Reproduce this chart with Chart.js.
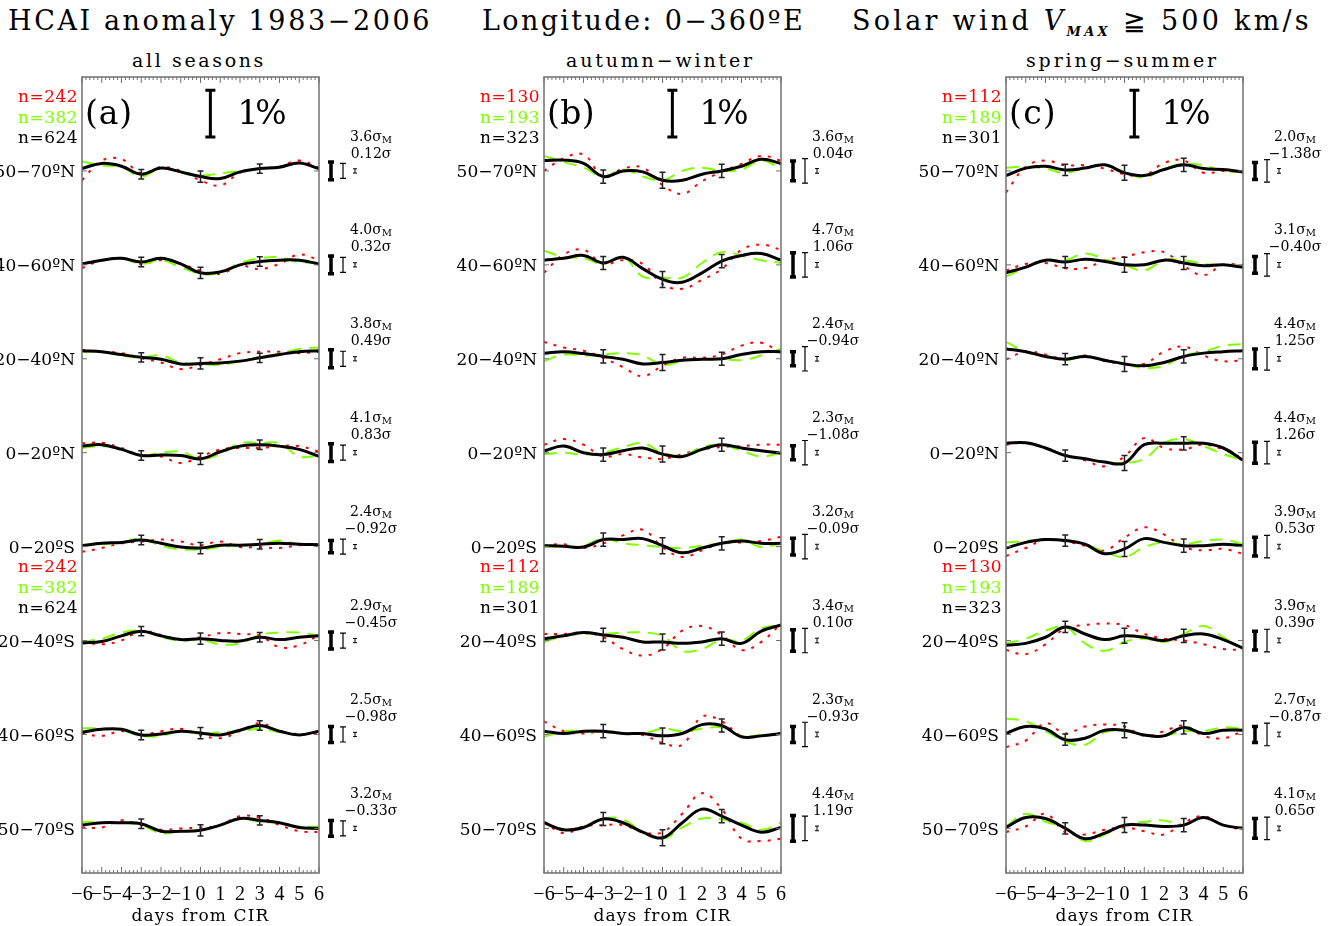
<!DOCTYPE html>
<html>
<head>
<meta charset="utf-8">
<title>HCAI anomaly</title>
<script src="https://cdn.jsdelivr.net/npm/chart.js@4.4.1/dist/chart.umd.min.js"></script>
<style>
  body { margin: 0; background: #fff; width: 1336px; height: 926px; overflow: hidden; position: relative; font-family: "DejaVu Serif", serif; color: #000; }
  canvas { position: absolute; left: 0; top: 0; }
  .ttl { position: absolute; top: 4px; font-size: 27px; line-height: 34px; white-space: nowrap; }
  .ttl sub { font-size: 13px; font-style: italic; font-weight: bold; vertical-align: -6px; }
  .ptl { position: absolute; top: 48px; font-size: 19px; line-height: 24px; white-space: nowrap; }
</style>
</head>
<body>
<div class="ttl" id="t1">HCAI anomaly 1983−2006</div>
<div class="ttl" id="t2">Longitude: 0−360ºE</div>
<div class="ttl" id="t3">Solar wind <i>V</i><sub>MAX</sub> ≧ 500 km/s</div>
<div class="ptl" id="p1">all seasons</div>
<div class="ptl" id="p2">autumn−winter</div>
<div class="ptl" id="p3">spring−summer</div>
<canvas id="chartA" width="1336" height="926"></canvas>
<canvas id="chartB" width="1336" height="926"></canvas>
<canvas id="chartC" width="1336" height="926"></canvas>
<script>
// ---- data ----
const days = [-6, -5, -4, -3, -2, -1, 0, 1, 2, 3, 4, 5, 6];
const rowLabels = ['50−70ºN', '40−60ºN', '20−40ºN', '0−20ºN', '0−20ºS', '20−40ºS', '40−60ºS', '50−70ºS'];
const errDays = [-3, 0, 3];
const tags = ['(a)', '(b)', '(c)'];
const xTitle = 'days from CIR';

// n counts: red, green, black
const nTop = [[242, 382, 624], [130, 193, 323], [112, 189, 301]];
const nLow = [[242, 382, 624], [112, 189, 301], [130, 193, 323]];

// right hand annotations
const sigmaMA = [3.6, 4.0, 3.8, 4.1, 2.4, 2.9, 2.5, 3.2];
const sigmaA = [0.12, 0.32, 0.49, 0.83, -0.92, -0.45, -0.98, -0.33];
const sigmaMB = [3.6, 4.7, 2.4, 2.3, 3.2, 3.4, 2.3, 4.4];
const sigmaB = [0.04, 1.06, -0.94, -1.08, -0.09, 0.10, -0.93, 1.19];
const sigmaMC = [2.0, 3.1, 4.4, 4.4, 3.9, 3.9, 2.7, 4.1];
const sigmaC = [-1.38, -0.40, 1.25, 1.26, 0.53, 0.39, -0.87, 0.65];

// glyph lengths (%) : thick bar, thin bar, tiny bar
const thickA = [0.38, 0.38, 0.38, 0.38, 0.26, 0.36, 0.34, 0.34];
const thickB = [0.42, 0.52, 0.30, 0.30, 0.36, 0.46, 0.34, 0.55];
const thickC = [0.36, 0.36, 0.42, 0.45, 0.40, 0.40, 0.34, 0.42];
const thinBar = [0.32, 0.52, 0.48];
const tinyBar = [0.09, 0.10, 0.10];

// error bar half lengths (%) at days -3, 0, 3
const errA = [0.10, 0.12, 0.10];
const errB = [0.14, 0.17, 0.14];
const errC = [0.12, 0.16, 0.14];

// anomaly (%) per latitude band, days -6..6
const blackA = [
  [0.05, 0.16, 0.10, -0.07, 0.06, -0.02, -0.12, -0.16, -0.02, 0.05, 0.08, 0.17, 0.05],
  [0.02, 0.10, 0.14, 0.06, 0.14, 0.02, -0.17, -0.15, 0.00, 0.07, 0.10, 0.10, 0.02],
  [0.17, 0.15, 0.09, 0.03, -0.01, -0.11, -0.10, -0.09, -0.05, 0.02, 0.09, 0.15, 0.17],
  [0.14, 0.17, 0.07, -0.06, -0.05, -0.06, -0.13, 0.02, 0.14, 0.17, 0.14, 0.07, -0.08],
  [0.02, 0.07, 0.09, 0.14, 0.07, -0.01, -0.03, 0.03, 0.03, 0.05, 0.07, 0.05, 0.04],
  [-0.05, -0.02, 0.10, 0.20, 0.10, 0.02, 0.04, 0.00, -0.01, 0.07, 0.02, 0.07, 0.10],
  [0.05, 0.11, 0.11, -0.01, 0.01, 0.07, 0.03, -0.01, 0.09, 0.19, 0.07, -0.01, 0.07],
  [0.07, 0.12, 0.12, 0.10, -0.06, -0.06, -0.04, 0.07, 0.21, 0.17, 0.12, 0.02, 0.00]
];
const greenA = [
  [0.20, 0.12, 0.08, -0.12, 0.06, -0.04, -0.10, -0.05, 0.00, 0.05, 0.09, 0.17, 0.05],
  [0.02, 0.10, 0.14, 0.02, 0.10, -0.05, -0.19, -0.17, 0.04, 0.14, 0.16, 0.06, 0.04],
  [0.15, 0.15, 0.07, 0.03, 0.07, -0.08, -0.11, -0.13, -0.05, 0.03, 0.11, 0.21, 0.24],
  [0.10, 0.14, 0.07, -0.06, 0.00, 0.02, -0.13, -0.03, 0.20, 0.21, 0.20, -0.08, -0.06],
  [0.04, 0.05, 0.09, 0.17, 0.02, -0.06, -0.06, -0.01, 0.03, 0.05, 0.13, 0.05, 0.04],
  [-0.03, 0.04, 0.17, 0.21, 0.07, 0.00, 0.02, -0.08, -0.06, 0.12, 0.17, 0.17, 0.10],
  [0.13, 0.13, 0.09, -0.03, -0.03, 0.07, 0.01, 0.05, 0.07, 0.12, 0.05, -0.01, 0.07],
  [0.14, 0.12, 0.12, 0.07, -0.10, -0.06, -0.04, 0.07, 0.21, 0.14, 0.12, 0.04, 0.04]
];
const redA = [
  [-0.20, 0.22, 0.25, -0.05, 0.08, 0.00, -0.20, -0.31, -0.04, 0.05, 0.09, 0.22, 0.07],
  [-0.07, 0.10, 0.14, 0.02, 0.10, 0.02, -0.12, -0.19, -0.02, -0.09, 0.02, 0.22, 0.10],
  [0.19, 0.15, 0.12, 0.01, -0.08, -0.22, -0.13, -0.01, 0.12, 0.15, 0.15, 0.12, 0.15],
  [0.20, 0.21, 0.10, -0.06, -0.08, -0.22, -0.08, 0.07, 0.10, 0.10, 0.14, 0.14, 0.02],
  [-0.11, -0.03, 0.07, 0.11, 0.15, 0.11, 0.03, 0.11, -0.01, -0.01, -0.03, 0.03, 0.05],
  [-0.03, -0.08, 0.00, 0.20, 0.12, 0.02, 0.07, 0.16, 0.14, 0.10, -0.14, -0.10, 0.12],
  [0.02, -0.03, 0.07, -0.01, 0.07, 0.12, -0.01, -0.08, 0.07, 0.24, 0.07, 0.01, 0.02],
  [0.02, 0.02, 0.17, 0.07, -0.03, 0.00, 0.02, 0.07, 0.26, 0.23, 0.07, -0.06, -0.08]
];

const blackB = [
  [0.22, 0.23, 0.16, -0.12, 0.00, -0.02, -0.20, -0.20, -0.07, 0.00, 0.10, 0.25, 0.16],
  [0.10, 0.14, 0.20, 0.04, 0.16, -0.08, -0.31, -0.37, -0.17, 0.08, 0.20, 0.24, 0.10],
  [0.12, 0.15, 0.11, 0.05, -0.01, -0.11, -0.08, -0.03, -0.01, 0.00, 0.09, 0.15, 0.15],
  [0.04, 0.14, 0.00, -0.04, 0.04, 0.10, -0.03, -0.08, 0.07, 0.17, 0.10, 0.04, -0.01],
  [0.02, 0.01, -0.01, 0.15, 0.15, 0.17, 0.02, -0.13, -0.03, 0.07, 0.12, 0.07, 0.07],
  [0.04, 0.10, 0.17, 0.12, 0.07, -0.03, -0.03, -0.06, -0.03, 0.04, -0.06, 0.20, 0.33],
  [0.07, 0.02, 0.07, 0.07, 0.02, 0.02, -0.03, 0.02, 0.21, 0.19, -0.05, -0.03, 0.02],
  [0.12, -0.03, 0.02, 0.20, 0.12, -0.08, -0.20, 0.12, 0.41, 0.26, 0.07, -0.08, 0.02]
];
const greenB = [
  [0.32, 0.19, 0.07, -0.12, 0.03, -0.12, -0.20, 0.00, 0.07, 0.00, 0.03, 0.22, 0.05],
  [0.30, 0.17, 0.14, 0.02, 0.17, -0.25, -0.27, -0.27, 0.04, 0.27, 0.20, 0.10, 0.04],
  [-0.05, 0.09, 0.07, 0.09, 0.12, 0.07, -0.13, -0.05, -0.01, -0.01, -0.03, 0.07, 0.21],
  [-0.03, 0.00, -0.04, 0.00, 0.12, 0.20, 0.00, -0.06, 0.12, 0.17, 0.04, -0.08, 0.00],
  [0.01, -0.01, 0.02, 0.17, 0.07, 0.03, -0.01, -0.03, 0.02, 0.07, 0.15, -0.01, 0.07],
  [-0.03, 0.10, 0.14, 0.14, 0.17, 0.17, 0.10, -0.22, -0.18, 0.02, 0.00, 0.26, 0.33],
  [-0.05, 0.07, 0.07, 0.05, 0.02, 0.02, 0.12, 0.07, 0.12, 0.15, -0.03, -0.01, 0.02],
  [0.12, -0.03, 0.04, 0.21, 0.19, -0.08, -0.22, 0.02, 0.21, 0.19, 0.12, -0.03, 0.12]
];
const redB = [
  [0.00, 0.27, 0.35, -0.12, 0.05, 0.07, -0.30, -0.49, -0.22, -0.02, 0.15, 0.32, 0.22],
  [-0.17, 0.22, 0.32, 0.02, 0.10, 0.02, -0.41, -0.51, -0.32, -0.09, 0.32, 0.43, 0.32],
  [0.36, 0.24, 0.17, 0.02, -0.18, -0.37, -0.15, 0.02, 0.02, 0.09, 0.28, 0.34, 0.12],
  [0.17, 0.29, 0.17, -0.08, -0.03, -0.10, -0.13, -0.03, 0.07, 0.12, 0.14, 0.17, 0.17],
  [0.02, 0.05, -0.03, 0.07, 0.24, 0.36, -0.01, -0.22, -0.08, 0.07, 0.09, 0.12, 0.21],
  [0.14, 0.14, 0.17, 0.07, -0.18, -0.32, -0.18, 0.21, 0.31, 0.12, -0.20, -0.03, 0.36],
  [0.28, 0.07, 0.02, 0.07, 0.02, -0.01, -0.18, -0.22, 0.38, 0.28, -0.03, -0.03, 0.02],
  [0.14, -0.10, 0.04, 0.07, 0.07, -0.08, -0.08, 0.31, 0.75, 0.41, -0.22, -0.27, -0.22]
];

const blackC = [
  [-0.10, 0.06, 0.10, 0.02, 0.06, 0.13, -0.04, -0.10, 0.03, 0.13, 0.05, 0.03, -0.02],
  [-0.17, -0.05, 0.10, 0.06, 0.12, 0.07, 0.00, 0.00, 0.10, 0.04, -0.02, 0.00, -0.05],
  [0.21, 0.15, 0.05, -0.01, 0.05, -0.03, -0.11, -0.15, -0.08, 0.05, 0.12, 0.15, 0.17],
  [0.20, 0.21, 0.10, -0.06, -0.13, -0.20, -0.22, 0.17, 0.20, 0.20, 0.20, 0.10, -0.16],
  [-0.03, 0.09, 0.15, 0.13, 0.05, -0.15, -0.05, 0.17, 0.09, 0.02, 0.02, 0.05, 0.02],
  [-0.10, -0.06, 0.07, 0.29, 0.14, 0.02, 0.10, 0.07, 0.00, 0.10, 0.14, 0.02, -0.16],
  [0.02, 0.17, 0.12, -0.11, -0.08, 0.09, 0.09, -0.01, -0.03, 0.15, 0.02, 0.09, 0.09],
  [0.02, 0.23, 0.21, 0.00, -0.22, -0.10, 0.07, 0.07, 0.04, 0.07, 0.23, 0.07, 0.00]
];
const greenC = [
  [0.07, 0.09, 0.05, -0.04, 0.07, 0.11, -0.02, -0.14, 0.05, 0.15, 0.12, 0.00, -0.02],
  [-0.25, -0.05, 0.10, 0.10, 0.24, 0.12, 0.00, -0.12, 0.10, 0.10, 0.02, 0.00, -0.02],
  [0.36, 0.15, 0.07, -0.03, 0.05, -0.03, -0.11, -0.20, -0.15, 0.07, 0.15, 0.28, 0.31],
  [0.20, 0.20, 0.10, -0.06, -0.13, -0.20, -0.22, -0.13, 0.21, 0.29, 0.14, -0.03, -0.16],
  [0.09, 0.12, 0.15, 0.13, 0.05, -0.11, -0.22, -0.01, 0.09, 0.05, 0.12, 0.15, 0.05],
  [-0.06, 0.04, 0.21, 0.29, -0.06, -0.22, -0.03, 0.04, -0.03, 0.14, 0.31, 0.07, -0.18],
  [0.34, 0.28, 0.07, -0.15, -0.22, 0.05, 0.07, -0.01, -0.03, 0.07, 0.07, 0.15, 0.12],
  [0.04, 0.31, 0.14, 0.02, -0.27, -0.13, 0.07, 0.14, 0.17, 0.07, 0.23, 0.07, 0.02]
];
const redC = [
  [-0.46, 0.09, 0.22, 0.12, 0.12, 0.05, -0.07, -0.10, 0.17, 0.22, -0.04, 0.00, -0.04],
  [-0.12, 0.02, 0.04, -0.07, -0.07, 0.10, 0.17, 0.27, 0.27, -0.02, -0.22, 0.00, 0.00],
  [-0.01, 0.15, 0.09, -0.01, 0.07, -0.05, -0.11, -0.11, 0.15, 0.26, 0.07, -0.05, -0.03],
  [0.17, 0.21, 0.10, -0.06, -0.16, -0.29, -0.08, 0.31, 0.10, 0.07, 0.17, 0.07, -0.13],
  [-0.20, -0.03, 0.15, 0.11, 0.02, -0.08, 0.19, 0.41, 0.26, -0.01, -0.08, -0.05, -0.15],
  [-0.20, -0.29, -0.08, 0.26, 0.33, 0.36, 0.33, 0.14, 0.04, 0.00, -0.08, -0.18, -0.20],
  [-0.27, -0.13, 0.24, 0.02, 0.17, 0.21, 0.17, -0.03, 0.07, 0.19, -0.03, -0.08, 0.07],
  [-0.08, 0.04, 0.31, -0.08, -0.13, -0.03, 0.02, -0.06, -0.13, 0.12, 0.26, 0.07, -0.03]
];

// ---- layout ----
const RED = '#ff0000';
const GREEN = '#7fff00';
const FRAME = '#707070';
const rowStep = 2;          // vertical spacing between bands, in %
const rowBase = rowLabels.map((_, i) => (rowLabels.length - 1 - i) * rowStep);

const panels = [
  { id: 'chartA', left: 0, axisW: 82, right: 1017, black: blackA, green: greenA, red: redA, sigM: sigmaMA, sig: sigmaA, thick: thickA, err: errA },
  { id: 'chartB', left: 434, axisW: 110, right: 555, black: blackB, green: greenB, red: redB, sigM: sigmaMB, sig: sigmaB, thick: thickB, err: errB },
  { id: 'chartC', left: 896, axisW: 110, right: 93, black: blackC, green: greenC, red: redC, sigM: sigmaMC, sig: sigmaC, thick: thickC, err: errC }
];

function fitText(ctx, str, x, y, w, align) {
  ctx.letterSpacing = '0px';
  const m = ctx.measureText(str).width;
  ctx.letterSpacing = ((w - m) / str.length) + 'px';
  ctx.textAlign = 'left';
  const x0 = align === 'right' ? x - w : align === 'center' ? x - w / 2 : x;
  ctx.fillText(str, x0, y);
  ctx.letterSpacing = '0px';
}

function ibar(ctx, x, y1, y2, cap, lw) {
  ctx.lineWidth = lw;
  ctx.beginPath();
  ctx.moveTo(x, y1); ctx.lineTo(x, y2);
  ctx.moveTo(x - cap / 2, y1); ctx.lineTo(x + cap / 2, y1);
  ctx.moveTo(x - cap / 2, y2); ctx.lineTo(x + cap / 2, y2);
  ctx.stroke();
}

const decor = {
  id: 'decor',
  afterDatasetsDraw(chart, args, opts) {
    const p = opts.panel;
    const P = panels[p];
    const { ctx, chartArea: ca } = chart;
    const x = chart.scales.x, y = chart.scales.y;
    ctx.save();

    // frame and ticks
    ctx.strokeStyle = FRAME;
    ctx.lineWidth = 1.5;
    ctx.strokeRect(ca.left, ca.top, ca.width, ca.height);
    ctx.lineWidth = 1;
    ctx.beginPath();
    for (let k = 0; k <= 60; k++) {
      const px = x.getPixelForValue(-6 + k * 0.2);
      const L = k % 5 === 0 ? 6 : 3;
      ctx.moveTo(px, ca.bottom); ctx.lineTo(px, ca.bottom - L);
      ctx.moveTo(px, ca.top); ctx.lineTo(px, ca.top + L);
    }
    rowBase.forEach(b => {
      const py = y.getPixelForValue(b);
      ctx.moveTo(ca.left, py); ctx.lineTo(ca.left + 5, py);
      ctx.moveTo(ca.right, py); ctx.lineTo(ca.right - 5, py);
    });
    ctx.stroke();

    // error bars on the black curves
    ctx.strokeStyle = '#222';
    P.black.forEach((row, r) => {
      errDays.forEach((d, k) => {
        const v = rowBase[r] + row[days.indexOf(d)];
        const px = x.getPixelForValue(d);
        ibar(ctx, px, y.getPixelForValue(v + P.err[k]), y.getPixelForValue(v - P.err[k]), 6, 1.5);
      });
    });

    // 1% scale bar
    ctx.strokeStyle = '#000';
    const top = y.max - 0.28;
    ibar(ctx, x.getPixelForValue(0.5), y.getPixelForValue(top), y.getPixelForValue(top - 1), 10, 3);

    ctx.fillStyle = '#000';
    ctx.textBaseline = 'middle';
    const midBar = y.getPixelForValue(top - 0.5) + 2;
    ctx.font = '33px "DejaVu Serif"';
    fitText(ctx, '1%', x.getPixelForValue(1.87), midBar, 46, 'left');
    fitText(ctx, tags[p], ca.left + 3, midBar, 48, 'left');

    // x axis title
    ctx.font = '17px "DejaVu Serif"';
    fitText(ctx, xTitle, (ca.left + ca.right) / 2, 917, 138, 'center');

    // n labels
    const nCols = [RED, GREEN, '#000'];
    const lowY = y.getPixelForValue(rowBase[4]);
    nCols.forEach((c, i) => {
      ctx.fillStyle = c;
      fitText(ctx, 'n=' + nTop[p][i], ca.left - 4, ca.top + 21 + i * 20.5, 60, 'right');
      fitText(ctx, 'n=' + nLow[p][i], ca.left - 4, lowY + 21 + i * 20.5, 60, 'right');
    });

    // right-hand significance notes
    ctx.fillStyle = '#000';
    ctx.strokeStyle = '#000';
    const cx = ca.right + 52;
    rowBase.forEach((b, r) => {
      const py = y.getPixelForValue(b);
      const main = P.sigM[r].toFixed(1) + 'σ';
      ctx.font = '14px "DejaVu Serif"';
      const w1 = ctx.measureText(main).width;
      ctx.font = '10px "DejaVu Serif"';
      const w2 = ctx.measureText('M').width;
      const sx = cx - (w1 + w2) / 2;
      ctx.textAlign = 'left';
      ctx.font = '14px "DejaVu Serif"';
      ctx.fillText(main, sx, py - 34);
      ctx.font = '10px "DejaVu Serif"';
      ctx.fillText('M', sx + w1, py - 31);
      const s = P.sig[r];
      ctx.font = '14px "DejaVu Serif"';
      ctx.textAlign = 'center';
      ctx.fillText((s < 0 ? '−' : '') + Math.abs(s).toFixed(2) + 'σ', cx, py - 17);

      const hThick = P.thick[r] / 2, hThin = thinBar[p] / 2, hTiny = tinyBar[p] / 2;
      ibar(ctx, ca.right + 12, y.getPixelForValue(b + hThick), y.getPixelForValue(b - hThick), 6, 3.5);
      ibar(ctx, ca.right + 24, y.getPixelForValue(b + hThin), y.getPixelForValue(b - hThin), 6, 1.2);
      ibar(ctx, ca.right + 36, y.getPixelForValue(b + hTiny), y.getPixelForValue(b - hTiny), 4, 1);
    });
    ctx.restore();
  }
};

function makeDatasets(P) {
  const sets = [];
  const add = (rows, style) => rows.forEach((row, r) => {
    sets.push(Object.assign({
      data: days.map((d, i) => ({ x: d, y: rowBase[r] + row[i] })),
      pointRadius: 0,
      fill: false,
      tension: 0.4
    }, style));
  });
  add(P.black, { borderColor: '#000', borderWidth: 3, order: 0 });
  add(P.green, { borderColor: GREEN, borderWidth: 2, borderDash: [13, 8], order: 1 });
  add(P.red, { borderColor: RED, borderWidth: 2, borderDash: [3, 7], order: 2 });
  return sets;
}

const fmtDay = v => (v < 0 ? '−' + (-v) : String(v));

panels.forEach((P, p) => {
  new Chart(document.getElementById(P.id), {
    type: 'line',
    data: { datasets: makeDatasets(P) },
    plugins: [decor],
    options: {
      responsive: false,
      animation: false,
      devicePixelRatio: 1,
      events: [],
      layout: { padding: { left: P.left, right: P.right, top: 77, bottom: 0 } },
      plugins: {
        legend: { display: false },
        tooltip: { enabled: false },
        decor: { panel: p }
      },
      scales: {
        x: {
          type: 'linear',
          min: -6,
          max: 6,
          grid: { display: false, drawTicks: false },
          border: { display: false },
          ticks: {
            stepSize: 1,
            autoSkip: false,
            maxRotation: 0,
            color: '#000',
            padding: 10,
            font: { family: 'Liberation Serif', size: 20 },
            callback: fmtDay
          },
          afterFit: s => { s.height = 53; }
        },
        y: {
          type: 'linear',
          min: -0.95,
          max: 16,
          grid: { display: false, drawTicks: false },
          border: { display: false },
          afterBuildTicks: s => { s.ticks = rowBase.map(v => ({ value: v })); },
          ticks: {
            color: '#000',
            padding: 7,
            labelOffset: 2,
            font: { family: 'DejaVu Serif', size: 17 },
            callback: v => rowLabels[rowBase.indexOf(v)]
          },
          afterFit: s => { s.width = P.axisW; }
        }
      }
    }
  });
});

// titles: stretch letter spacing so each spans its place
function fitDom(id, x1, x2) {
  const el = document.getElementById(id);
  el.style.left = x1 + 'px';
  const w = el.getBoundingClientRect().width;
  el.style.letterSpacing = ((x2 - x1) - w) / el.textContent.length + 'px';
}
fitDom('t1', 8, 432);
fitDom('t2', 482, 805);
fitDom('t3', 852, 1312);
fitDom('p1', 132, 266);
fitDom('p2', 566, 755);
fitDom('p3', 1026, 1219);
</script>
</body>
</html>
